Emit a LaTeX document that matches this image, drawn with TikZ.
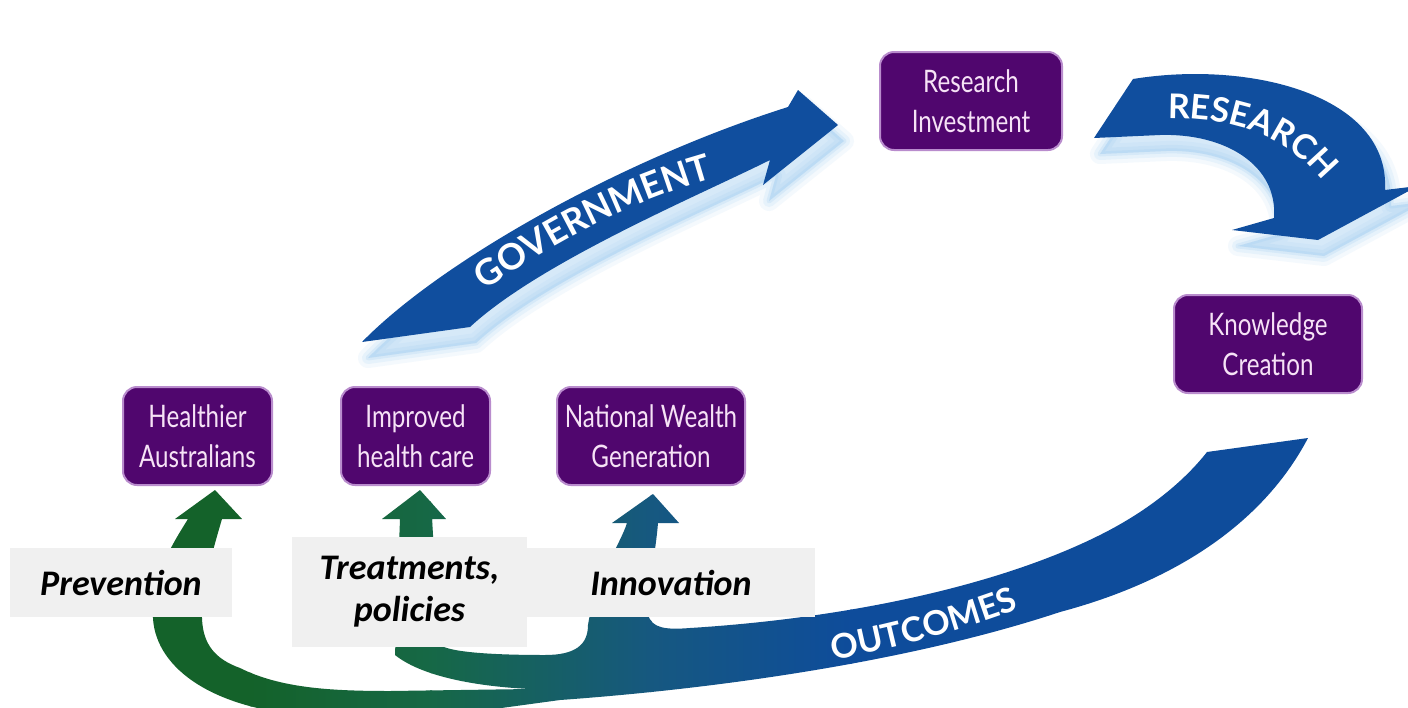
\documentclass[tikz,border=0pt]{standalone}
\usepackage{fontspec}
\newfontfamily\boxfont{Lato}[FakeStretch=0.78]
\newfontfamily\tagfont{Carlito}
\newfontfamily\flowfont{Lato}
\usetikzlibrary{decorations.text}
\definecolor{boxpurple}{RGB}{80,6,110}
\definecolor{boxedge}{RGB}{185,140,205}
\definecolor{boxtext}{RGB}{246,226,246}
\definecolor{taggray}{RGB}{240,240,240}
\definecolor{flowblue}{RGB}{16,78,158}
\definecolor{glowblue}{RGB}{150,200,240}
\definecolor{grnA}{RGB}{20,98,42}
\definecolor{grnB}{RGB}{22,104,70}
\definecolor{tealC}{RGB}{22,88,128}
\definecolor{bluD}{RGB}{14,76,155}
\newcommand\govshape{(362,342) .. controls (440,262) and (620,160) .. (788,107) -- (798,90) -- (838,125) -- (763,185) -- (770,160) .. controls (700,195) and (540,262) .. (470,327) -- cycle}
\newcommand\resshape{(1133,79) .. controls (1250,60) and (1390,95) .. (1385,190) -- (1418,186) -- (1318,240) -- (1232,230) -- (1274,218) .. controls (1278,165) and (1225,133) .. (1160,135) -- (1094,138) -- cycle}
\newcommand\outshape{(188,519) -- (175,519) -- (215,490) -- (242,519) -- (222,519) .. controls (195,610) and (190,650) .. (240,668) .. controls (280,688) and (330,691) .. (390,691) -- (530,689) .. controls (470,686) and (420,675) .. (395,655) -- (400,519) -- (382,519) -- (420,490) -- (446,519) -- (432,519) -- (440,645) .. controls (450,652) and (490,655) .. (545,655) .. controls (575,655) and (588,645) .. (588,625) .. controls (595,580) and (620,545) .. (627,523) -- (612,523) -- (653,494) -- (679,523) -- (658,523) .. controls (655,560) and (645,600) .. (648,615) .. controls (652,628) and (665,630) .. (690,628) .. controls (850,618) and (1000,585) .. (1100,535) .. controls (1150,510) and (1185,480) .. (1207,452) -- (1308,438) .. controls (1265,520) and (1180,580) .. (1060,612) .. controls (900,665) and (700,690) .. (560,700) -- (450,715) -- (300,715) .. controls (200,705) and (150,660) .. (153,610) .. controls (155,570) and (175,540) .. (188,519) -- cycle}
\begin{document}
\begin{tikzpicture}[x=0.5pt,y=-0.5pt,
    outbox/.style={draw=boxedge,line width=1pt,fill=boxpurple,rounded corners=7pt,text=boxtext,align=center,inner sep=0pt,font=\boxfont\fontsize{15.5}{20}\selectfont},
    tagbox/.style={fill=taggray,inner sep=0pt,align=center,font=\tagfont\bfseries\itshape\fontsize{18}{21}\selectfont}]
    \useasboundingbox (0,0) rectangle (1408,707);
    \fill[white] (0,0) rectangle (1408,707);
    \foreach \w/\o in {10/.1,6/.14,2.5/.2}{
        \draw[glowblue,fill=glowblue,line width=\w pt,line join=round,opacity=\o,shift={(6,16)}] \govshape;
        \draw[glowblue,fill=glowblue,line width=\w pt,line join=round,opacity=\o,shift={(6,16)}] \resshape;
    }
    \fill[flowblue] \govshape;
    \fill[flowblue] \resshape;
    \begin{scope}
        \clip \outshape;
        \fill[grnA] (0,380) rectangle (252,720);
        \shade[left color=grnA,right color=grnB] (250,380) rectangle (432,720);
        \shade[left color=grnB,right color=tealC] (430,380) rectangle (652,720);
        \shade[left color=tealC,right color=bluD] (650,380) rectangle (852,720);
        \fill[bluD] (850,380) rectangle (1408,720);
    \end{scope}
    \path[decorate,decoration={text along path,text align=center,text={|\flowfont\bfseries\fontsize{18}{18}\selectfont\color{white}|GOVERNMENT}}] (470,300) .. controls (540,252) and (620,202) .. (730,174);
    \path[decorate,decoration={text along path,text align=center,text={|\flowfont\bfseries\fontsize{17}{17}\selectfont\color{white}|RESEARCH}}] (1140,120) .. controls (1230,112) and (1300,135) .. (1338,205);
    \path[decorate,decoration={text along path,text align=center,text={|\flowfont\bfseries\fontsize{17}{17}\selectfont\color{white}|OUTCOMES}}] (790,668) .. controls (880,652) and (970,632) .. (1060,592);
    \node[tagbox,minimum width=111pt,minimum height=34.5pt] (prev) at (121,582.5) {Prevention};
    \node[tagbox,minimum width=144pt,minimum height=34.5pt] (innv) at (671,582.5) {Innovation};
    \node[tagbox,minimum width=117.5pt,minimum height=55pt] (trt) at (409.5,592) {Treatments,\\policies};
    \node[outbox,minimum width=91pt,minimum height=49pt] (rinv) at (971,101) {Research\\Investment};
    \node[outbox,minimum width=94pt,minimum height=49pt] (know) at (1268,344) {Knowledge\\Creation};
    \node[outbox,minimum width=74.5pt,minimum height=49pt] (hlth) at (197.5,436) {Healthier\\Australians};
    \node[outbox,minimum width=74.5pt,minimum height=49pt] (impr) at (415.5,436) {Improved\\health care};
    \node[outbox,minimum width=94pt,minimum height=49pt] (natw) at (651,436) {National Wealth\\Generation};
\end{tikzpicture}
\end{document}
